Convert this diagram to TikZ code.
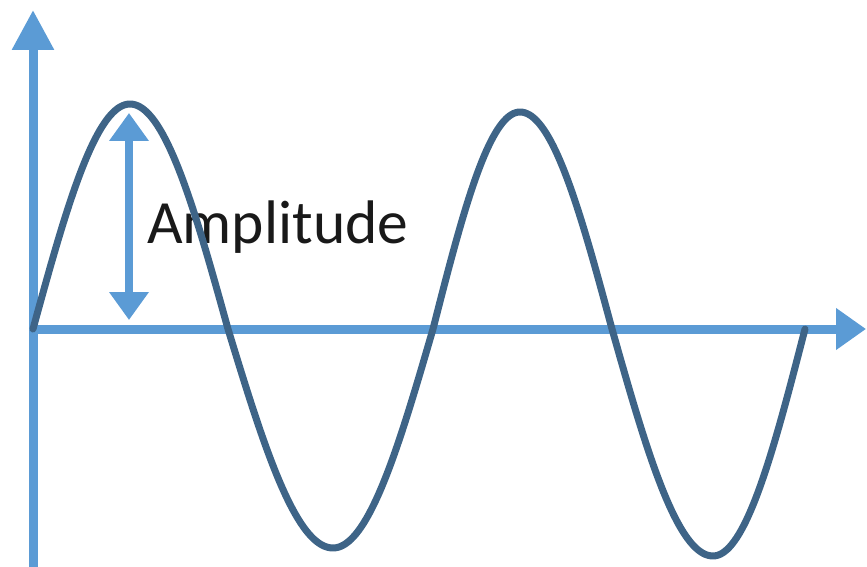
\documentclass[tikz,border=0pt]{standalone}
\usepackage{fontspec}
\setmainfont{Carlito}
\usetikzlibrary{arrows.meta}
\definecolor{axisblue}{RGB}{91,155,213}
\definecolor{wavecol}{RGB}{62,100,135}
\definecolor{txtcol}{RGB}{25,25,25}
\tikzset{
  axisline/.style={draw=axisblue, line width=9pt},
  ampline/.style={draw=axisblue, line width=8pt, {Triangle[length=28pt,width=38pt]}-{Triangle[length=28pt,width=38pt]}},
  waveline/.style={draw=wavecol, line width=7pt, line join=round, line cap=round},
  lbl/.style={text=txtcol, inner sep=0pt, font=\fontsize{61.5}{72}\selectfont}
}
\begin{document}
\begin{tikzpicture}[x=1pt,y=-1pt]
\useasboundingbox (0,0) rectangle (867,567);
% axes
\coordinate (O) at (33,329);
\coordinate (ybot) at (33,570);
\coordinate (ytop) at (33,10);
\coordinate (xend) at (866,329);
\draw[axisline, -{Triangle[length=40pt,width=40pt]}] (ybot) -- (ytop);
\draw[axisline, -{Triangle[length=30pt,width=40pt]}] (O) -- (xend);
% amplitude arrow
\coordinate (atop) at (129,113);
\coordinate (abot) at (129,320);
\draw[ampline] (abot) -- (atop);
\node[lbl, anchor=base west] (amp) at (147,243) {Amplitude};
% wave: quarter-sine segments
\draw[waveline]
  plot[domain=0:1, samples=40, variable=\t] ({33+97*\t},{329-225*sin(90*\t)})
  -- plot[domain=0:1, samples=40, variable=\t] ({130+98*\t},{104+225*(1-cos(90*\t))})
  -- plot[domain=0:1, samples=40, variable=\t] ({228+105*\t},{329+219*sin(90*\t)})
  -- plot[domain=0:1, samples=40, variable=\t] ({333+100*\t},{548-219*(1-cos(90*\t))})
  -- plot[domain=0:1, samples=40, variable=\t] ({433+87*\t},{329-217*sin(90*\t)})
  -- plot[domain=0:1, samples=40, variable=\t] ({520+92*\t},{112+217*(1-cos(90*\t))})
  -- plot[domain=0:1, samples=40, variable=\t] ({612+101*\t},{329+227*sin(90*\t)})
  -- plot[domain=0:1, samples=40, variable=\t] ({713+92*\t},{556-227*(1-cos(90*\t))});
\end{tikzpicture}
\end{document}
